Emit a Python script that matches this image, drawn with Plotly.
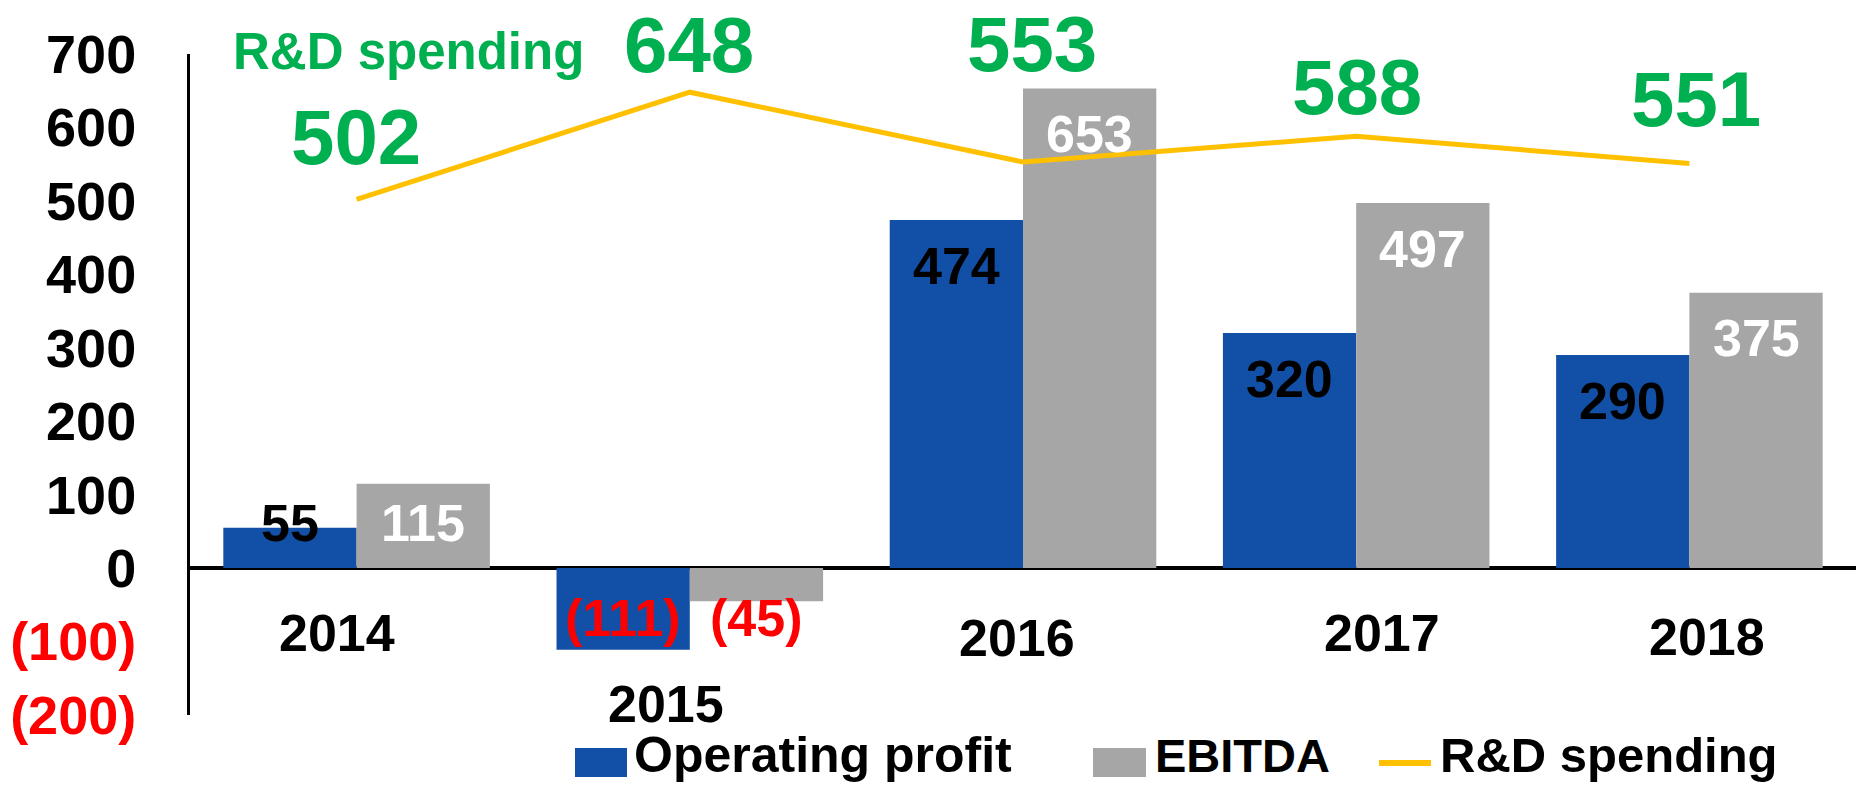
import plotly.graph_objects as go

# ---- data ----
years = ["2014", "2015", "2016", "2017", "2018"]
operating_profit = [55, -111, 474, 320, 290]
ebitda = [115, -45, 653, 497, 375]
rd_spending = [502, 648, 553, 588, 551]
y_tick_values = [700, 600, 500, 400, 300, 200, 100, 0, -100, -200]

# ---- styling ----
BLUE = "#1150A6"
GRAY = "#A6A6A6"
YELLOW = "#FFC000"
GREEN = "#00B050"
RED = "#FF0000"
FONT = "Liberation Sans"

W, H = 1856, 789
ML, MR, MT, MB = 190, 0, 54, 74
PW, PH = W - ML - MR, H - MT - MB


def px_x(px):
    return (px - ML) / PW


def px_y(py):
    return (H - MB - py) / PH


def fmt_tick(v):
    if v < 0:
        return f"<span style='color:{RED}'>({abs(v)})</span>"
    return f"{v}"


def fmt_val(v):
    return f"({abs(v)})" if v < 0 else f"{v}"


fig = go.Figure()
fig.add_trace(go.Bar(x=years, y=operating_profit, name="Operating profit",
                     marker=dict(color=BLUE, line=dict(width=0))))
fig.add_trace(go.Bar(x=years, y=ebitda, name="EBITDA",
                     marker=dict(color=GRAY, line=dict(width=0))))
fig.add_trace(go.Scatter(x=years, y=rd_spending, name="R&D spending", mode="lines",
                         line=dict(color=YELLOW, width=5)))

annotations = []

# bar value labels (category axis -> use category index)
half_bar = PW / len(years) * 0.8 / 4
for i, (op, eb) in enumerate(zip(operating_profit, ebitda)):
    if i == 0:
        ly_op, ly_eb = 61, 61
    elif op < 0:
        ly_op, ly_eb = -68, -68
    else:
        ly_op, ly_eb = op - 62, eb - 62
    annotations.append(dict(x=i, y=ly_op, xref="x", yref="y", xshift=-half_bar,
                            text=fmt_val(op), showarrow=False,
                            font=dict(family=FONT, size=52, weight="bold",
                                      color=RED if op < 0 else "black")))
    annotations.append(dict(x=i, y=ly_eb, xref="x", yref="y", xshift=half_bar,
                            text=fmt_val(eb), showarrow=False,
                            font=dict(family=FONT, size=52, weight="bold",
                                      color=RED if eb < 0 else "white")))

# R&D labels (pixel offsets above the line points)
rd_shift_x = [-1, -1, 9, 1, 7]
rd_shift_y = [62, 47, 118, 49, 64]
for i, v in enumerate(rd_spending):
    annotations.append(dict(x=i, y=v, xref="x", yref="y",
                            xshift=rd_shift_x[i], yshift=rd_shift_y[i],
                            text=str(v), showarrow=False,
                            font=dict(family=FONT, size=78, weight="bold", color=GREEN)))

annotations.append(dict(x=px_x(231), y=px_y(52), xref="paper", yref="paper",
                        xanchor="left", yanchor="middle", text="R&D spending",
                        showarrow=False,
                        font=dict(family=FONT, size=51, weight="bold", color=GREEN)))

# category labels (individual positions as in the original)
cat_shift_x = [-20, -24, -6, 26, 18]
cat_py = [633, 704, 638, 633, 637]
for i, yr in enumerate(years):
    annotations.append(dict(x=i, y=px_y(cat_py[i]), xref="x", yref="paper",
                            xshift=cat_shift_x[i], text=yr, showarrow=False,
                            yanchor="middle",
                            font=dict(family=FONT, size=52, weight="bold", color="black")))

# custom legend
shapes = [
    dict(type="rect", xref="paper", yref="paper", x0=px_x(575), x1=px_x(627),
         y0=px_y(777), y1=px_y(748), fillcolor=BLUE, line=dict(width=0)),
    dict(type="rect", xref="paper", yref="paper", x0=px_x(1093), x1=px_x(1146),
         y0=px_y(777), y1=px_y(748), fillcolor=GRAY, line=dict(width=0)),
    dict(type="line", xref="paper", yref="paper", x0=px_x(1379), x1=px_x(1431),
         y0=px_y(763), y1=px_y(763), line=dict(color=YELLOW, width=6)),
]
for name, lx, fs in [("Operating profit", 632, 50), ("EBITDA", 1153, 47),
                     ("R&D spending", 1438, 49)]:
    annotations.append(dict(x=px_x(lx), y=px_y(755), xref="paper", yref="paper",
                            xanchor="left", yanchor="middle", text=name, showarrow=False,
                            font=dict(family=FONT, size=fs, weight="bold", color="black")))

fig.update_layout(
    width=W, height=H,
    margin=dict(l=ML, r=MR, t=MT, b=MB, pad=0),
    paper_bgcolor="white", plot_bgcolor="white",
    barmode="group", bargap=0.2, bargroupgap=0,
    showlegend=False,
    annotations=annotations, shapes=shapes,
    font=dict(family=FONT),
)
fig.update_xaxes(type="category", range=[-0.5, 4.5], showticklabels=False,
                 showgrid=False, showline=False, zeroline=False, ticks="")
fig.update_yaxes(range=[-200, 700], tickvals=y_tick_values,
                 ticktext=[fmt_tick(v) for v in y_tick_values],
                 tickfont=dict(family=FONT, size=54, weight="bold", color="black"),
                 showgrid=False, showline=True, linecolor="black", linewidth=3,
                 zeroline=True, zerolinecolor="black", zerolinewidth=4,
                 ticks="", ticklabelstandoff=40)

fig.write_html("out.html", config={"displayModeBar": False},
               post_script="document.body.style.margin='0px';")
